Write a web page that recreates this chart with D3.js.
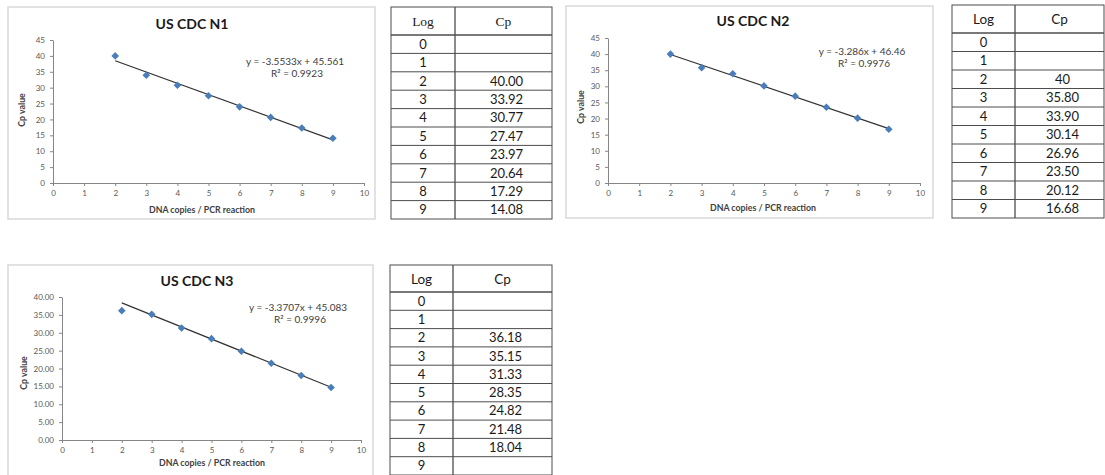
<!DOCTYPE html>
<html>
<head>
<meta charset="utf-8">
<script src="https://cdn.jsdelivr.net/npm/d3@7/dist/d3.min.js"></script>
<style>
  html, body { margin: 0; padding: 0; background: #fff; }
  svg { display: block; }
</style>
</head>
<body>
<svg id="page" width="1105" height="475"></svg>
<script>
// Log10 of DNA copies per PCR reaction
const logs = [0, 1, 2, 3, 4, 5, 6, 7, 8, 9];

// Measured Cp values per assay (null = no amplification recorded)
const n1Cp = [null, null, 40.00, 33.92, 30.77, 27.47, 23.97, 20.64, 17.29, 14.08];
const n2Cp = [null, null, 40, 35.80, 33.90, 30.14, 26.96, 23.50, 20.12, 16.68];
const n3Cp = [null, null, 36.18, 35.15, 31.33, 28.35, 24.82, 21.48, 18.04, null];
// N3 point plotted at log 9 that is not listed in its table
const n3PlotLog9 = 14.70;

// Linear fits reported on each chart
const fitSlopes = [-3.5533, -3.286, -3.3707];
const fitIntercepts = [45.561, 46.46, 45.083];
const fitR2 = ["0.9923", "0.9976", "0.9996"];

// Axis tick labels
const xTicks = [0, 1, 2, 3, 4, 5, 6, 7, 8, 9, 10];
const yTicks45 = [0, 5, 10, 15, 20, 25, 30, 35, 40, 45];
const yTicks40 = [0, 5, 10, 15, 20, 25, 30, 35, 40];

const titles = ["US CDC N1", "US CDC N2", "US CDC N3"];

const svg = d3.select("#page");
const sans = "Lato, 'Open Sans', sans-serif";
const markerColor = "#4a7ebb";

// square diamond marker, r = half-diagonal
const diamond = r => `M0,${-r}L${r},0L0,${r}L${-r},0Z`;

function drawChart(o) {
  const g = svg.append("g");
  // chart frame
  g.append("rect")
    .attr("x", o.box[0]).attr("y", o.box[1])
    .attr("width", o.box[2] - o.box[0]).attr("height", o.box[3] - o.box[1])
    .attr("fill", "#fff").attr("stroke", "#d9d9d9").attr("stroke-width", 1.5);

  const x = d3.scaleLinear().domain([0, 10]).range([o.plot[0], o.plot[2]]);
  const y = d3.scaleLinear().domain([0, o.yMax]).range([o.plot[3], o.plot[1]]);

  const xAxis = d3.axisBottom(x).tickValues(xTicks).tickSize(3).tickSizeOuter(0).tickPadding(4);
  const yAxis = d3.axisLeft(y).tickValues(o.yTicks).tickSize(3).tickSizeOuter(0).tickPadding(5)
    .tickFormat(o.yFormat);

  const gx = g.append("g").attr("transform", `translate(0,${o.plot[3]})`).call(xAxis);
  const gy = g.append("g").attr("transform", `translate(${o.plot[0]},0)`).call(yAxis);
  [gx, gy].forEach(a => {
    a.selectAll("path,line").attr("stroke", "#868686");
    a.selectAll("text").attr("font-family", sans).attr("font-size", 8).attr("fill", "#595959");
  });

  // title
  g.append("text").attr("x", o.titlePos[0]).attr("y", o.titlePos[1])
    .attr("text-anchor", "middle").attr("font-family", sans).attr("font-weight", "bold")
    .attr("font-size", 14).attr("fill", "#1a1a1a").text(o.title);

  // axis titles
  g.append("text").attr("x", o.xTitlePos[0]).attr("y", o.xTitlePos[1])
    .attr("text-anchor", "middle").attr("font-family", sans).attr("font-weight", "bold")
    .attr("font-size", 8.8).attr("fill", "#404040").text("DNA copies / PCR reaction");
  g.append("text")
    .attr("transform", `translate(${o.yTitlePos[0]},${o.yTitlePos[1]}) rotate(-90)`)
    .attr("text-anchor", "middle").attr("font-family", sans).attr("font-weight", "bold")
    .attr("font-size", 8.8).attr("fill", "#404040").text("Cp value");

  // trend line across measured range
  const pts = o.points;
  const xs = d3.extent(pts, d => d.log);
  const fit = v => o.slope * v + o.intercept;
  g.append("line")
    .attr("x1", x(xs[0])).attr("y1", y(fit(xs[0])))
    .attr("x2", x(xs[1])).attr("y2", y(fit(xs[1])))
    .attr("stroke", "#333").attr("stroke-width", 1.2);

  // measured points
  g.selectAll("path.pt").data(pts).join("path")
    .attr("class", "pt")
    .attr("d", diamond(3.8))
    .attr("transform", d => `translate(${x(d.log)},${y(d.cp)})`)
    .attr("fill", markerColor);

  // equation label
  const eq = g.append("text").attr("font-family", sans).attr("font-size", 10)
    .attr("fill", "#404040").attr("text-anchor", "middle");
  eq.append("tspan").attr("x", o.eqPos[0]).attr("y", o.eqPos[1])
    .text(`y = ${o.slope}x + ${o.intercept}`);
  eq.append("tspan").attr("x", o.eqPos[0] + 2).attr("y", o.eqPos[1] + 12)
    .text(`R² = ${o.r2}`);
}

function drawTable(o) {
  const g = svg.append("g");
  const [x0, x1, x2] = o.cols;
  const rows = logs.length;
  const top = o.top, hb = o.headerBottom, rh = o.rowH;
  const bottom = hb + rows * rh;
  const lineColor = "#4d4d4d";

  g.append("rect").attr("x", x0).attr("y", top).attr("width", x2 - x0).attr("height", bottom - top)
    .attr("fill", "#fff").attr("stroke", lineColor).attr("stroke-width", 1);
  g.append("line").attr("x1", x1).attr("x2", x1).attr("y1", top).attr("y2", bottom)
    .attr("stroke", lineColor).attr("stroke-width", 1.3);
  g.append("line").attr("x1", x0).attr("x2", x2).attr("y1", hb).attr("y2", hb)
    .attr("stroke", lineColor).attr("stroke-width", 1.3);
  g.selectAll("line.row").data(d3.range(1, rows)).join("line")
    .attr("class", "row")
    .attr("x1", x0).attr("x2", x2)
    .attr("y1", i => hb + i * rh).attr("y2", i => hb + i * rh)
    .attr("stroke", lineColor).attr("stroke-width", 1);

  const headFont = o.serifHeader ? "'Liberation Serif', 'DejaVu Serif', serif" : sans;
  const hy = (top + hb) / 2 + 5;
  g.append("text").attr("x", (x0 + x1) / 2).attr("y", hy).attr("text-anchor", "middle")
    .attr("font-family", headFont).attr("font-size", 13.5).attr("fill", "#1a1a1a").text("Log");
  g.append("text").attr("x", (x1 + x2) / 2).attr("y", hy).attr("text-anchor", "middle")
    .attr("font-family", headFont).attr("font-size", 13.5).attr("fill", "#1a1a1a").text("Cp");

  const data = logs.map((l, i) => ({ log: l, cp: o.values[i], i }));
  g.selectAll("text.log").data(data).join("text").attr("class", "log")
    .attr("x", (x0 + x1) / 2).attr("y", d => hb + d.i * rh + rh / 2 + 4.5)
    .attr("text-anchor", "middle").attr("font-family", sans).attr("font-size", 13)
    .attr("fill", "#1a1a1a").text(d => d.log);
  g.selectAll("text.cp").data(data.filter(d => d.cp != null)).join("text").attr("class", "cp")
    .attr("x", (x1 + x2) / 2 + 3).attr("y", d => hb + d.i * rh + rh / 2 + 4.5)
    .attr("text-anchor", "middle").attr("font-family", sans).attr("font-size", 13)
    .attr("fill", "#1a1a1a").text(d => o.format(d.cp));
}

const toPoints = vals => logs.map((l, i) => ({ log: l, cp: vals[i] })).filter(d => d.cp != null);
const f2 = d3.format(".2f");

drawChart({
  title: titles[0], box: [8, 7, 375, 219], plot: [53, 40, 364, 183],
  yMax: 45, yTicks: yTicks45, yFormat: d3.format("d"),
  titlePos: [192, 29], xTitlePos: [202, 213], yTitlePos: [25, 110],
  eqPos: [295, 65], slope: fitSlopes[0], intercept: fitIntercepts[0], r2: fitR2[0],
  points: toPoints(n1Cp)
});
drawChart({
  title: titles[1], box: [566, 6, 933, 218], plot: [608, 38, 920, 183],
  yMax: 45, yTicks: yTicks45, yFormat: d3.format("d"),
  titlePos: [753, 26], xTitlePos: [763, 211], yTitlePos: [584, 107],
  eqPos: [862, 55], slope: fitSlopes[1], intercept: fitIntercepts[1], r2: fitR2[1],
  points: toPoints(n2Cp)
});
drawChart({
  title: titles[2], box: [8, 265, 373, 480], plot: [62, 297, 361, 440],
  yMax: 40, yTicks: yTicks40, yFormat: f2,
  titlePos: [197, 286], xTitlePos: [212, 466], yTitlePos: [27, 373],
  eqPos: [298, 311], slope: fitSlopes[2], intercept: fitIntercepts[2], r2: fitR2[2],
  points: toPoints(n3Cp).concat([{ log: 9, cp: n3PlotLog9 }])
});

drawTable({ cols: [391, 455, 552], top: 7, headerBottom: 35, rowH: 18.4,
  values: n1Cp, format: f2, serifHeader: true });
drawTable({ cols: [952, 1015, 1104], top: 5, headerBottom: 33, rowH: 18.5,
  values: n2Cp, format: v => Number.isInteger(v) ? String(v) : f2(v), serifHeader: false });
drawTable({ cols: [390, 453, 552], top: 265, headerBottom: 292, rowH: 18.3,
  values: n3Cp, format: f2, serifHeader: false });
</script>
</body>
</html>
